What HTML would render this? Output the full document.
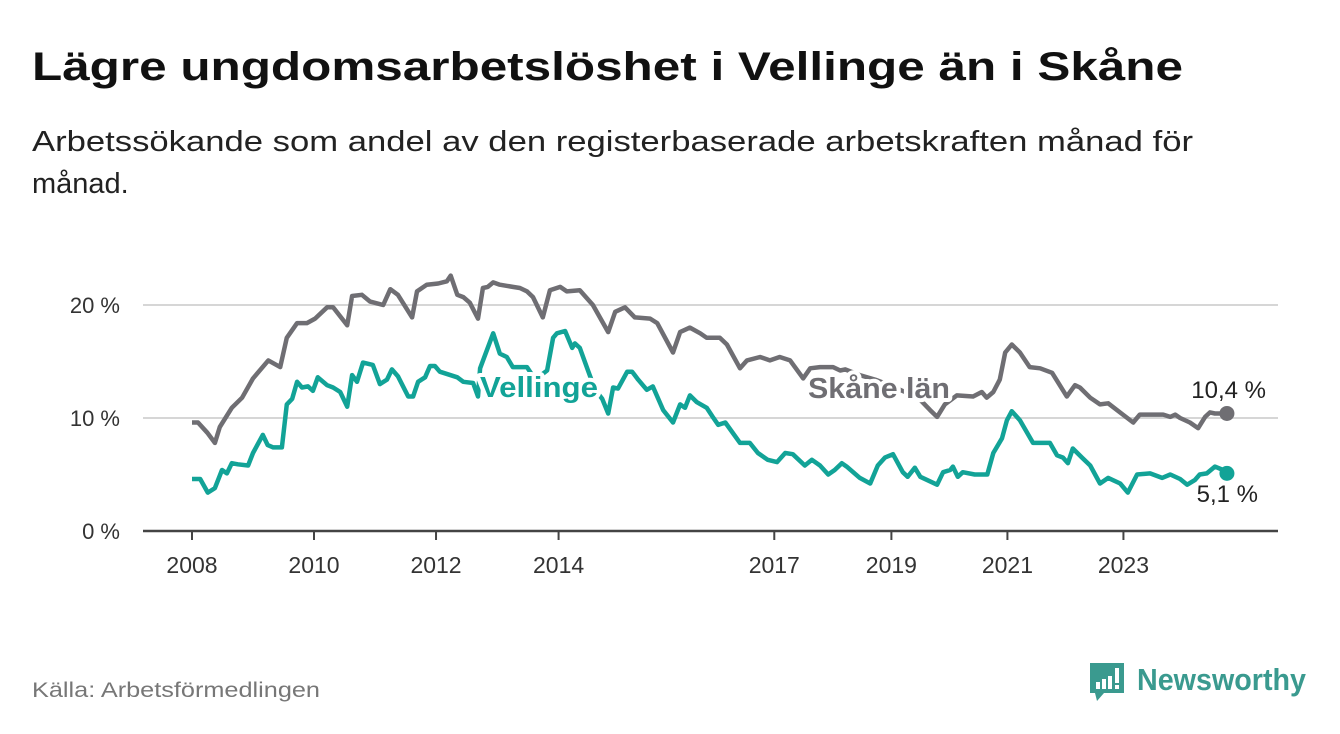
<!DOCTYPE html>
<html><head><meta charset="utf-8"><style>
body{margin:0;background:#fff;}
svg{display:block;font-family:"Liberation Sans",sans-serif;}
</style></head><body>
<svg id="chart" width="1340" height="734" viewBox="0 0 1340 734">
<text x="32" y="80" font-size="40" font-weight="bold" fill="#111" textLength="1151" lengthAdjust="spacingAndGlyphs">Lägre ungdomsarbetslöshet i Vellinge än i Skåne</text>
<text x="32" y="151" font-size="29" fill="#222" textLength="1161" lengthAdjust="spacingAndGlyphs">Arbetssökande som andel av den registerbaserade arbetskraften månad för</text>
<text x="32" y="193" font-size="29" fill="#222">månad.</text>
<g id="grid"></g>
<g id="lines"></g>
<g id="labels"></g>
<text x="32" y="697" font-size="21" fill="#777" textLength="288" lengthAdjust="spacingAndGlyphs">Källa: Arbetsförmedlingen</text>
<g>
<path d="M1090 663 h34 v30 h-20 l-7 8 l-2 -8 h-5 z" fill="#3a9a8f"/>
<rect x="1096" y="682" width="4" height="7" fill="#fff"/><rect x="1102" y="679" width="4" height="10" fill="#fff"/><rect x="1108" y="676" width="4" height="13" fill="#fff"/><rect x="1115" y="668" width="4" height="15" fill="#fff"/><rect x="1115" y="685" width="4" height="4" fill="#fff"/>
<text x="1137" y="690" font-size="31" font-weight="bold" fill="#3a9a8f" textLength="169" lengthAdjust="spacingAndGlyphs">Newsworthy</text>
</g>
</svg>
<script>
const yTicks=[0,10,20];
const yTickLabels=["0 %","10 %","20 %"];
const xTicks=[0,22.4,44.8,67.3,106.9,128.4,149.7,171];
const xTickLabels=["2008","2010","2012","2014","2017","2019","2021","2023"];
const skaneMonths=[0,1.1,2.8,4.2,5.1,7.3,9.2,11.2,14,16.2,17.4,19.3,21.1,22.6,24.8,25.9,28.5,29.4,31.2,32.7,35.1,36.4,37.8,40.4,41.3,43.1,45.2,46.8,47.5,48.7,49.8,51,52.5,53.4,54.3,55.3,56.5,58.9,60.2,61.5,62.6,64.4,65.7,67.6,68.8,71.2,73.6,76.4,77.7,79.5,81.3,84.1,85.4,88.3,89.6,91.4,93.3,94.5,96.9,98.2,100.6,101.9,104.3,106.1,107.9,109.8,112.2,113.5,115.3,117.7,119,119.9,122.6,125.4,128.1,130.9,133.7,135.5,136.8,138.2,140.4,143.4,145,145.9,147.1,148.3,149.3,150.5,152,153.8,155.7,157.9,160.6,162.1,163,164.9,166.7,168.2,170.9,172.8,174,178.3,179.6,180.5,181.4,183.2,184.7,186,186.9,187.8,190];
const skaneValues=[9.6,9.6,8.7,7.8,9.2,10.9,11.8,13.5,15.1,14.5,17.1,18.4,18.4,18.8,19.8,19.8,18.2,20.8,20.9,20.3,20,21.4,20.9,18.9,21.2,21.8,21.9,22.1,22.6,20.9,20.7,20.2,18.8,21.5,21.6,22,21.8,21.6,21.5,21.2,20.7,18.9,21.3,21.6,21.2,21.3,20,17.6,19.4,19.8,18.9,18.8,18.4,15.8,17.6,18,17.5,17.1,17.1,16.5,14.4,15.1,15.4,15.1,15.4,15.1,13.5,14.4,14.5,14.5,14.2,14.3,13.8,13.4,12.9,12.3,11.6,10.7,10.1,11.2,12,11.9,12.3,11.8,12.3,13.4,15.8,16.5,15.8,14.5,14.4,14,11.9,12.9,12.7,11.8,11.2,11.3,10.3,9.6,10.3,10.3,10.1,10.3,10,9.6,9.1,10.1,10.5,10.4,10.4];
const vellMonths=[0,1.5,2.9,4.2,5.5,6.4,7.3,8.4,10.3,11.2,13,13.9,14.9,16.5,17.4,18.4,19.3,20.2,21.3,22.2,23.1,24.8,25.9,27.2,28.5,29.4,30.3,31.4,33.2,34.5,35.8,36.7,37.8,39.7,40.6,41.5,42.8,43.7,44.6,45.5,48.7,49.8,51.6,52.5,52.9,55.3,56.5,57.8,58.9,60.2,61.5,63,65.2,66.3,67,68.5,69.8,70.3,71.2,72.7,74,75.3,76.4,77.3,78.2,79.9,80.8,81.9,83.5,84.6,86.5,88.3,89.6,90.5,91.4,92.7,94.5,95.6,96.6,97.9,100.6,102.4,103.9,105.7,107.4,108.9,110.3,112.5,113.8,115.3,116.8,118,119.3,120.2,122.6,124.5,125.9,127.2,128.7,130.5,131.4,132.7,133.7,136.8,137.9,139.2,139.7,140.6,141.5,143.7,146,147.1,148.7,149.6,150.5,152,154.4,157.5,158.8,159.9,160.8,161.7,163.4,164.9,166.7,168.2,170.4,171.8,173.5,175.9,178.1,179.6,181.4,182.7,184.1,185,186.3,187.8,189.3,190];
const vellValues=[4.6,4.6,3.4,3.8,5.4,5.1,6,5.9,5.8,6.9,8.5,7.6,7.4,7.4,11.2,11.7,13.2,12.7,12.8,12.4,13.6,12.9,12.7,12.3,11,13.8,13.2,14.9,14.7,13,13.4,14.3,13.7,11.9,11.9,13.2,13.6,14.6,14.6,14.1,13.6,13.2,13.1,11.9,14.4,17.5,15.7,15.4,14.5,14.5,14.5,13.4,14.2,17.1,17.5,17.7,16.2,16.6,16.2,14.2,12.5,11.7,10.4,12.7,12.6,14.1,14.1,13.4,12.5,12.8,10.7,9.6,11.2,10.9,12,11.4,10.9,10.1,9.4,9.6,7.8,7.8,6.9,6.3,6.1,6.9,6.8,5.8,6.3,5.8,5,5.4,6,5.7,4.7,4.2,5.8,6.5,6.8,5.2,4.8,5.6,4.8,4.1,5.2,5.4,5.7,4.8,5.2,5,5,6.9,8.2,9.8,10.6,9.8,7.8,7.8,6.7,6.5,6,7.3,6.5,5.8,4.2,4.7,4.2,3.4,5,5.1,4.7,5,4.6,4.1,4.5,5,5.1,5.7,5.4,5.1];

const NS="http://www.w3.org/2000/svg";
const X0=192, PXM=5.447, Y0=531, PXV=11.3;
function xs(m){return X0+m*PXM;}
function ys(v){return Y0-v*PXV;}
function mk(tag,attrs,parent){const e=document.createElementNS(NS,tag);for(const k in attrs)e.setAttribute(k,attrs[k]);parent.appendChild(e);return e;}
const grid=document.getElementById('grid'), lines=document.getElementById('lines'), labels=document.getElementById('labels');
yTicks.forEach((t,i)=>{
  if(t>0){const g=mk('line',{x1:143,x2:1278,y1:ys(t),y2:ys(t),stroke:'#d6d6d6','stroke-width':2},grid);
  
  }
  const tx=mk('text',{x:120,y:ys(t)+8,'text-anchor':'end','font-size':22,fill:'#333'},grid);
  tx.textContent=yTickLabels[i];
  
  
});
const ax=mk('line',{x1:143,x2:1278,y1:Y0,y2:Y0,stroke:'#444','stroke-width':2.5},grid);


xTicks.forEach((t,i)=>{
  const x=xs(t);
  const tk=mk('line',{x1:x,x2:x,y1:Y0,y2:Y0+9,stroke:'#444','stroke-width':2},grid);
  
  
  const tx=mk('text',{x:x,y:573,'text-anchor':'middle','font-size':23,fill:'#333'},grid);
  tx.textContent=xTickLabels[i];
  
  
});
function path(ms,vs){return ms.map((m,i)=>(i?'L':'M')+xs(m).toFixed(1)+' '+ys(vs[i]).toFixed(1)).join(' ');}
const sk=mk('path',{d:path(skaneMonths,skaneValues),fill:'none',stroke:'#6f6e73','stroke-width':4.5,'stroke-linejoin':'round'},lines);


const ve=mk('path',{d:path(vellMonths,vellValues),fill:'none',stroke:'#12a397','stroke-width':4.5,'stroke-linejoin':'round'},lines);


const sL=skaneMonths.length-1, vL=vellMonths.length-1;
const d1=mk('circle',{cx:xs(skaneMonths[sL]),cy:ys(skaneValues[sL]),r:7.5,fill:'#6f6e73'},lines);


const d2=mk('circle',{cx:xs(vellMonths[vL]),cy:ys(vellValues[vL]),r:7.5,fill:'#12a397'},lines);


function lab(txt,x,y,size,weight,fill,name,anchor,len){
  const t=mk('text',{x:x,y:y,'font-size':size,'font-weight':weight,fill:fill,stroke:'#fff','stroke-width':8,'paint-order':'stroke','stroke-linejoin':'round','text-anchor':anchor||'start'},labels);
  if(len){t.setAttribute('textLength',len);t.setAttribute('lengthAdjust','spacingAndGlyphs');}
  t.textContent=txt;
  
  
}
lab('Vellinge',480,397,29,'bold','#12a397','vellinge-label','start',118);
lab('Skåne län',808,398,29,'bold','#6f6e73','skane-label','start',142);
lab('10,4 %',1266,398,24,'normal','#222','skane-end-value','end');
lab('5,1 %',1258,502,24,'normal','#222','vellinge-end-value','end');
</script>
</body></html>
